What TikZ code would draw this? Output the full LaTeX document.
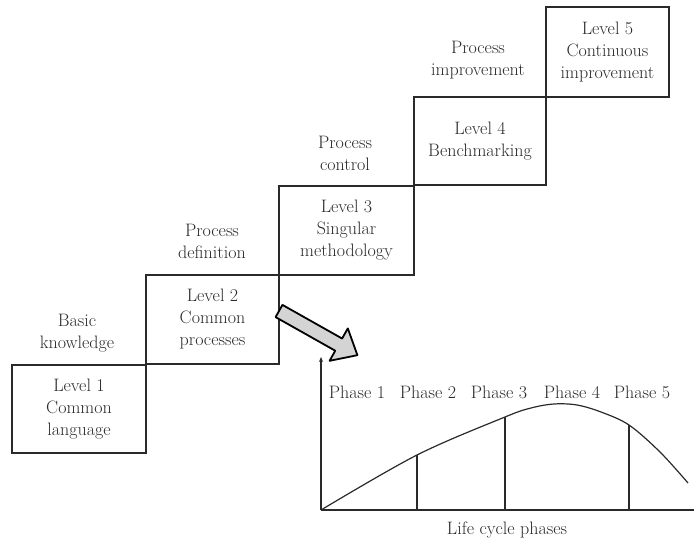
\documentclass[tikz,border=0pt]{standalone}
\usetikzlibrary{arrows.meta}
\newcommand\diagfont{\fontsize{18}{22}\selectfont}
\definecolor{linec}{HTML}{2A2A2A}
\definecolor{arrowfill}{HTML}{D4D4D4}
\begin{document}
\begin{tikzpicture}[x=1pt,y=1pt,
  lvl/.style={draw=linec, line width=1.6pt, align=center, inner sep=0pt, font=\diagfont, text=linec},
  lbl/.style={align=center, inner sep=0pt, font=\diagfont, text=linec},
  axisline/.style={draw=linec, line width=2.2pt},
  curveline/.style={draw=linec, line width=1.2pt},
  divider/.style={draw=linec, line width=1.4pt},
  bigarrow/.style={draw=black, line width=1.8pt, fill=arrowfill, line join=round}]
\useasboundingbox (0,0) rectangle (694,542);
% staircase of levels
\node[lvl, minimum width=134pt, minimum height=88pt] (l1) at (79,133) {Level 1\\Common\\language};
\node[lvl, minimum width=133pt, minimum height=89pt] (l2) at (212.5,222.5) {Level 2\\Common\\processes};
\node[lvl, minimum width=135pt, minimum height=89pt] (l3) at (346.5,311.5) {Level 3\\Singular\\methodology};
\node[lvl, minimum width=132pt, minimum height=88pt] (l4) at (480,401) {Level 4\\Benchmarking};
\node[lvl, minimum width=123pt, minimum height=90pt] (l5) at (607.5,490) {Level 5\\Continuous\\improvement};
% step labels
\node[lbl] (t1) at (77,209) {Basic\\knowledge};
\node[lbl] (t2) at (212,301) {Process\\definition};
\node[lbl] (t3) at (345,388.5) {Process\\control};
\node[lbl] (t4) at (478,481.5) {Process\\improvement};
% block arrow
\begin{scope}[shift={(279,231)}, rotate=-29.4]
  \draw[bigarrow] (0,7) -- (68.5,7) -- (68.5,18.6) -- (90,0) -- (68.5,-18.6) -- (68.5,-7) -- (0,-7) -- cycle;
\end{scope}
% axes
\coordinate (o) at (321,32);
\coordinate (ytop) at (321,185);
\coordinate (xend) at (694,32);
\draw[axisline, -{Stealth[length=5pt,width=4pt]}] (o) -- (ytop);
\draw[axisline] (o) -- (xend);
% curve
\coordinate (c2) at (417,87);
\coordinate (c3) at (505,125);
\coordinate (c5) at (629,117);
\draw[curveline] plot[smooth, tension=0.55] coordinates {(321,32) (417,87) (505,125) (531,134) (554,138) (577,137) (601,130) (629,117) (660,90) (688,59)};
\draw[divider] (c2) -- (c2 |- o);
\draw[divider] (c3) -- (c3 |- o);
\draw[divider] (c5) -- (c5 |- o);
% phase labels
\node[lbl] (p1) at (357,150) {Phase 1};
\node[lbl] (p2) at (428,150) {Phase 2};
\node[lbl] (p3) at (499,150) {Phase 3};
\node[lbl] (p4) at (572,150) {Phase 4};
\node[lbl] (p5) at (642,150) {Phase 5};
\node[lbl] (xl) at (507,12) {Life cycle phases};
\end{tikzpicture}
\end{document}
